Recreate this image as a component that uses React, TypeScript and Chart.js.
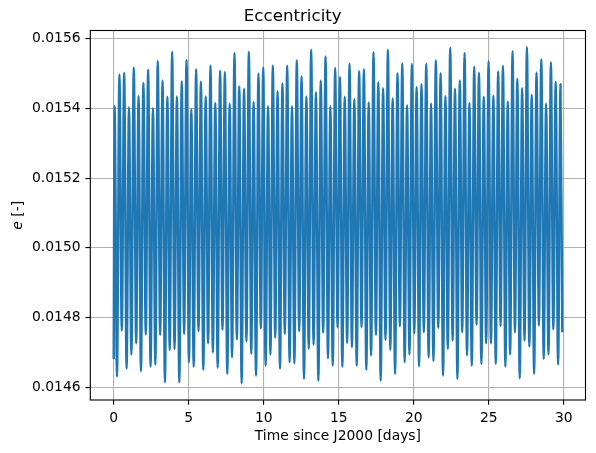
import React, { useEffect, useRef } from "react";
import { Chart, registerables } from "chart.js";

Chart.register(...registerables);

// Eccentricity extrema (alternating peak / trough)
const startTime = 0;
const startValue = 0.014681;
const firstPeakTime = 0.06;
const period = 0.3196; // days between successive peaks
const endTime = 29.9;
const endValue = 0.014758;

const peakValues = [
  0.015406, 0.015497, 0.015502, 0.015403, 0.015517, 0.015435, 0.015473, 0.015511, 0.0154, 0.015536, 0.01548,
  0.015433, 0.015562, 0.015434, 0.015478, 0.015539, 0.015397, 0.015512, 0.015477, 0.015434, 0.015523, 0.015415, 0.015508,
  0.015504, 0.015413, 0.015559, 0.015463, 0.015456, 0.015562, 0.015418, 0.0155, 0.015517, 0.015406, 0.015523, 0.015449,
  0.015471, 0.015522, 0.015406, 0.015538, 0.015492, 0.015434, 0.015568, 0.015446, 0.01548, 0.015549, 0.015406,
  0.015516, 0.01549, 0.015433, 0.015528, 0.015426, 0.015507, 0.015512, 0.015417, 0.015561, 0.015475, 0.015458, 0.015568,
  0.015428, 0.015501, 0.015529, 0.015409, 0.015527, 0.015461, 0.015469, 0.015528, 0.015414, 0.015538, 0.015501, 0.015435,
  0.015574, 0.015456, 0.01548, 0.015559, 0.015415, 0.015519, 0.015502, 0.015433, 0.015535, 0.015436, 0.015506,
  0.015522, 0.01542, 0.015564, 0.015485, 0.015458, 0.015576, 0.015439, 0.015503, 0.015541, 0.015413, 0.015532, 0.015476, 0.015469,
];

const troughValues = [
  0.014631, 0.014763, 0.014653, 0.014694, 0.014726, 0.014646, 0.014751, 0.014659, 0.014665, 0.01475, 0.014614,
  0.014707, 0.01471, 0.014614, 0.014753, 0.014672, 0.014659, 0.014761, 0.01465, 0.014726, 0.0147, 0.014656,
  0.014765, 0.014638, 0.014686, 0.014737, 0.014611, 0.014732, 0.014696, 0.014633, 0.014769, 0.014662, 0.014694, 0.014742,
  0.014653, 0.014753, 0.014672, 0.014669, 0.014761, 0.014624, 0.01471, 0.014722, 0.014619, 0.014756, 0.014683, 0.014662,
  0.014772, 0.014659, 0.014727, 0.014715, 0.014662, 0.014772, 0.01465, 0.014691, 0.01475, 0.014619, 0.014736,
  0.014707, 0.014638, 0.014775, 0.014672, 0.014694, 0.014755, 0.01466, 0.014758, 0.014686, 0.014675, 0.01477, 0.014633,
  0.01471, 0.014734, 0.014624, 0.014758, 0.014691, 0.014662, 0.014779, 0.014667, 0.014726, 0.014726, 0.014667, 0.014776,
  0.014659, 0.014694, 0.014758, 0.014626, 0.014734, 0.014717, 0.014638, 0.014777, 0.014681, 0.014694, 0.014766, 0.014665,
];

const xTicks = [0, 5, 10, 15, 20, 25, 30];
const yTicks = [0.0146, 0.0148, 0.015, 0.0152, 0.0154, 0.0156];

const titleText = "Eccentricity";
const xLabel = "Time since J2000 [days]";

const FONT = "'DejaVu Sans', 'Liberation Sans', sans-serif";
const PT = 100 / 72;

function buildPoints() {
  const pts: { x: number; y: number }[] = [{ x: startTime, y: startValue }];
  for (let k = 0; k < peakValues.length; k++) {
    pts.push({ x: firstPeakTime + k * period, y: peakValues[k] });
    if (k < troughValues.length) {
      pts.push({ x: firstPeakTime + (k + 0.5) * period, y: troughValues[k] });
    }
  }
  pts.push({ x: endTime, y: endValue });
  return pts;
}

const framePlugin = {
  id: "frameAndYLabel",
  afterDatasetsDraw(chart: any) {
    const { ctx, chartArea } = chart;
    ctx.save();
    ctx.strokeStyle = "#000";
    ctx.lineWidth = 0.8 * PT;
    ctx.strokeRect(chartArea.left, chartArea.top, chartArea.right - chartArea.left, chartArea.bottom - chartArea.top);
    ctx.restore();
  },
  afterDraw(chart: any) {
    const { ctx, chartArea } = chart;
    const cy = (chartArea.top + chartArea.bottom) / 2;
    ctx.save();
    ctx.translate(18.5, cy);
    ctx.rotate(-Math.PI / 2);
    ctx.fillStyle = "#000";
    ctx.textBaseline = "middle";
    const size = 10 * PT;
    ctx.font = `italic ${size}px ${FONT}`;
    const eW = ctx.measureText("e").width;
    ctx.font = `${size}px ${FONT}`;
    const rest = " [-]";
    const rW = ctx.measureText(rest).width;
    const total = eW + rW;
    ctx.textAlign = "left";
    ctx.font = `italic ${size}px ${FONT}`;
    ctx.fillText("e", -total / 2, 0);
    ctx.font = `${size}px ${FONT}`;
    ctx.fillText(rest, -total / 2 + eW, 0);
    ctx.restore();
  },
};

export default function App() {
  const ref = useRef<HTMLCanvasElement | null>(null);

  useEffect(() => {
    document.body.style.margin = "0";
    if (!ref.current) return;
    Chart.defaults.color = "#000";
    Chart.defaults.font.family = FONT;
    const chart = new Chart(ref.current, {
      type: "line",
      data: {
        datasets: [
          {
            data: buildPoints(),
            borderColor: "#1f77b4",
            borderWidth: 2.4,
            pointRadius: 0,
            fill: false,
            cubicInterpolationMode: "monotone",
            borderJoinStyle: "round",
            borderCapStyle: "butt",
          },
        ],
      },
      options: {
        animation: false,
        responsive: false,
        devicePixelRatio: 1,
        parsing: false,
        normalized: true,
        layout: { padding: { left: 0, right: 10.5, top: 0, bottom: 0 } },
        plugins: {
          legend: { display: false },
          tooltip: { enabled: false },
          title: {
            display: true,
            text: titleText,
            font: { size: 12 * PT, weight: "normal", family: FONT },
            color: "#000",
            padding: { top: 7, bottom: 3.5 },
          },
        },
        scales: {
          x: {
            type: "linear",
            min: -1.56,
            max: 31.45,
            afterFit: (s: any) => {
              s.height = 53;
            },
            afterBuildTicks: (s: any) => {
              s.ticks = xTicks.map((v) => ({ value: v }));
            },
            ticks: {
              autoSkip: false,
              maxRotation: 0,
              padding: 3.5 * PT,
              font: { size: 10 * PT, family: FONT },
              color: "#000",
              callback: (v: any) => String(v),
            },
            grid: {
              color: "#b0b0b0",
              lineWidth: 0.8 * PT,
              tickColor: "#000",
              tickLength: 3.5 * PT,
              tickWidth: 0.8 * PT,
            },
            border: { display: false },
            title: {
              display: true,
              text: xLabel,
              font: { size: 10 * PT, family: FONT },
              color: "#000",
              padding: { top: 0, bottom: 8.5 },
            },
          },
          y: {
            type: "linear",
            min: 0.0145636,
            max: 0.0156231,
            afterFit: (s: any) => {
              s.width = 90.3;
            },
            afterBuildTicks: (s: any) => {
              s.ticks = yTicks.map((v) => ({ value: v }));
            },
            ticks: {
              autoSkip: false,
              padding: 3.5 * PT,
              font: { size: 10 * PT, family: FONT },
              color: "#000",
              callback: (v: any) => Number(v).toFixed(4),
            },
            grid: {
              color: "#b0b0b0",
              lineWidth: 0.8 * PT,
              tickColor: "#000",
              tickLength: 3.5 * PT,
              tickWidth: 0.8 * PT,
            },
            border: { display: false },
          },
        },
      },
      plugins: [framePlugin],
    });
    return () => chart.destroy();
  }, []);

  return (
    <div style={{ position: "absolute", left: 0, top: 0, width: 596, height: 453, background: "#fff" }}>
      <canvas ref={ref} width={596} height={453} style={{ width: 596, height: 453, display: "block" }} />
    </div>
  );
}
